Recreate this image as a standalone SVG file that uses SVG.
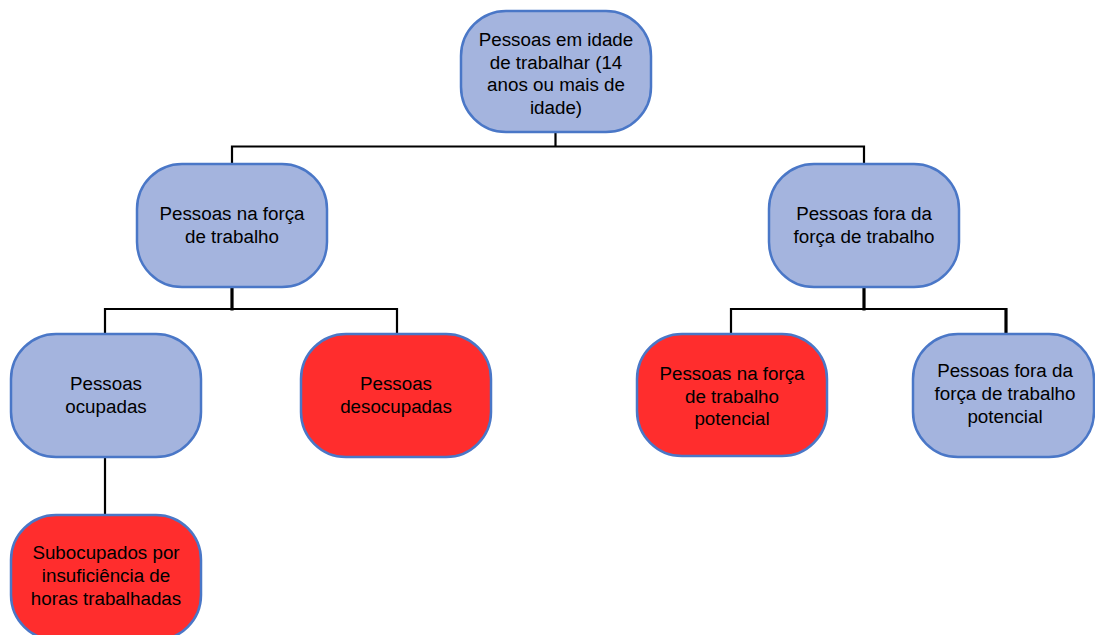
<svg xmlns="http://www.w3.org/2000/svg" width="1095" height="635" viewBox="0 0 1095 635">
<style>
.blue{fill:#a4b4de;stroke:#4a77c7;stroke-width:2.5}
.red{fill:#ff2d2d;stroke:#4a77c7;stroke-width:2.5}
text{font-family:"Liberation Sans",Arial,sans-serif;font-size:18.8px;fill:#000;text-anchor:middle}
.c{fill:none;stroke:#000;stroke-width:2.2}
.t{fill:none;stroke:#000;stroke-width:3.2}
</style>
<rect width="1095" height="635" fill="#fff"/>
<g id="connectors">
<path class="c" d="M555.5 132V146.5M232 164V146.5H864V164"/>
<path class="t" d="M232 287V310.5"/>
<path class="c" d="M105 334V309H397V334"/>
<path class="t" d="M864 287V310.5"/>
<path class="c" d="M731 334V309H1006"/>
<path class="t" d="M1006 308V334"/>
<path class="c" d="M105 457V515"/>
</g>
<g id="n1"><rect class="blue" x="461" y="11" width="190" height="121" rx="45"/>
<text x="556" y="46">Pessoas em idade</text><text x="556" y="68.5">de trabalhar (14</text><text x="556" y="91">anos ou mais de</text><text x="556" y="113.5">idade)</text></g>
<g id="n2"><rect class="blue" x="137" y="164" width="190" height="123" rx="45"/>
<text x="232" y="220">Pessoas na força</text><text x="232" y="243">de trabalho</text></g>
<g id="n3"><rect class="blue" x="769" y="164" width="190" height="123" rx="45"/>
<text x="864" y="220">Pessoas fora da</text><text x="864" y="243">força de trabalho</text></g>
<g id="n4"><rect class="blue" x="11" y="334" width="190" height="123" rx="45"/>
<text x="106" y="390">Pessoas</text><text x="106" y="413">ocupadas</text></g>
<g id="n5"><rect class="red" x="301" y="334" width="190" height="123" rx="45"/>
<text x="396" y="390">Pessoas</text><text x="396" y="413">desocupadas</text></g>
<g id="n6"><rect class="red" x="637" y="334" width="190" height="122" rx="45"/>
<text x="732" y="380">Pessoas na força</text><text x="732" y="402.5">de trabalho</text><text x="732" y="425">potencial</text></g>
<g id="n7"><rect class="blue" x="913" y="334" width="181" height="123" rx="45"/>
<text x="1005" y="377">Pessoas fora da</text><text x="1005" y="400">força de trabalho</text><text x="1005" y="422.5">potencial</text></g>
<g id="n8"><rect class="red" x="11" y="515" width="190" height="125" rx="45"/>
<text x="106" y="559">Subocupados por</text><text x="106" y="582">insuficiência de</text><text x="106" y="604.5">horas trabalhadas</text></g>
</svg>
